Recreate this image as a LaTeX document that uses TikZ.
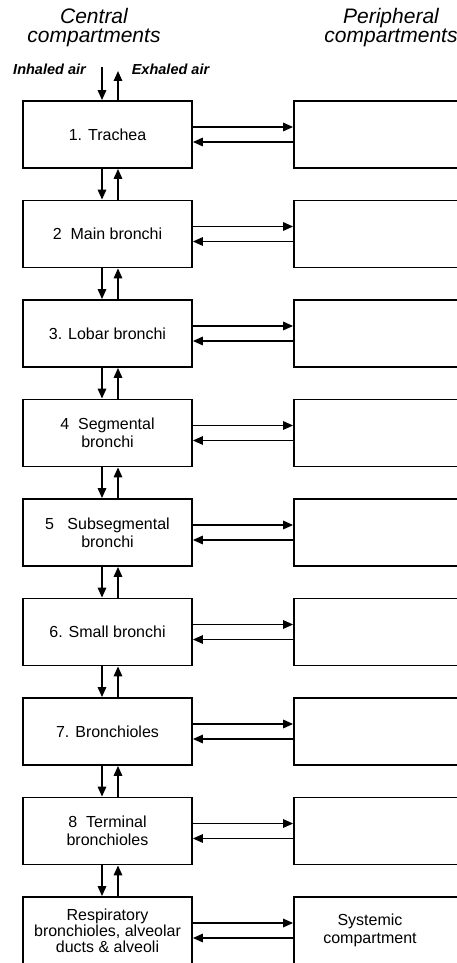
\documentclass[tikz,border=0pt]{standalone}
\usepackage{fontspec}
\setmainfont{Liberation Sans}
\usetikzlibrary{arrows.meta}

\begin{document}
\begin{tikzpicture}[x=1pt, y=-1pt, >={Triangle[length=10pt, width=8.5pt]},
  cbox/.style={rectangle, draw, line width=1.8pt, minimum width=169pt, minimum height=67pt, inner sep=1pt, align=center, font=\fontsize{16}{18}\selectfont},
  pbox/.style={rectangle, draw, line width=1.8pt, minimum width=186pt, minimum height=67pt},
  flow/.style={->, line width=1.6pt},
  head/.style={anchor=north, inner sep=0pt, align=center, font=\fontsize{21}{19}\selectfont\itshape},
  air/.style={anchor=base, inner sep=0pt, font=\fontsize{14.5}{16}\selectfont\bfseries\itshape}]
\useasboundingbox (0,0) rectangle (457,963);
\clip (0,0) rectangle (457,963);

% headings
\node[head] (central) at (94,8) {Central\\compartments};
\node[head] (periph) at (391,8) {Peripheral\\compartments};
\node[air] (inlabel) at (49.5,75) {Inhaled air};
\node[air] (exlabel) at (170.5,75) {Exhaled air};
\coordinate (inh) at (102,67);
\coordinate (exh) at (118,71);

% 1. Trachea
\node[cbox] (C1) at (107.5,134.5) {1. Trachea};
\node[pbox] (P1) at (387,134.5) {};
\draw[flow] (inh) -- (inh |- C1.north);
\draw[flow] (exh |- C1.north) -- (exh);
\draw[flow] ([yshift=7.5pt]C1.east) -- ([yshift=7.5pt]P1.west);
\draw[flow] ([yshift=-7.5pt]P1.west) -- ([yshift=-7.5pt]C1.east);

% 2. Main bronchi
\begin{scope}[yshift=-99.5pt]
\node[cbox] (C2) at (107.5,134.5) {2~~Main bronchi};
\node[pbox] (P2) at (387,134.5) {};
\draw[flow] ([xshift=-5.5pt]C1.south) -- ([xshift=-5.5pt]C2.north);
\draw[flow] ([xshift=10.5pt]C2.north) -- ([xshift=10.5pt]C1.south);
\draw[flow] ([yshift=7.5pt]C2.east) -- ([yshift=7.5pt]P2.west);
\draw[flow] ([yshift=-7.5pt]P2.west) -- ([yshift=-7.5pt]C2.east);
\end{scope}

% 3. Lobar bronchi
\begin{scope}[yshift=-199pt]
\node[cbox] (C3) at (107.5,134.5) {3. Lobar bronchi};
\node[pbox] (P3) at (387,134.5) {};
\draw[flow] ([xshift=-5.5pt]C2.south) -- ([xshift=-5.5pt]C3.north);
\draw[flow] ([xshift=10.5pt]C3.north) -- ([xshift=10.5pt]C2.south);
\draw[flow] ([yshift=7.5pt]C3.east) -- ([yshift=7.5pt]P3.west);
\draw[flow] ([yshift=-7.5pt]P3.west) -- ([yshift=-7.5pt]C3.east);
\end{scope}

% 4. Segmental bronchi
\begin{scope}[yshift=-298.5pt]
\node[cbox] (C4) at (107.5,134.5) {4~~Segmental\\bronchi};
\node[pbox] (P4) at (387,134.5) {};
\draw[flow] ([xshift=-5.5pt]C3.south) -- ([xshift=-5.5pt]C4.north);
\draw[flow] ([xshift=10.5pt]C4.north) -- ([xshift=10.5pt]C3.south);
\draw[flow] ([yshift=7.5pt]C4.east) -- ([yshift=7.5pt]P4.west);
\draw[flow] ([yshift=-7.5pt]P4.west) -- ([yshift=-7.5pt]C4.east);
\end{scope}

% 5. Subsegmental bronchi
\begin{scope}[yshift=-398pt]
\node[cbox] (C5) at (107.5,134.5) {5~~~Subsegmental\\bronchi};
\node[pbox] (P5) at (387,134.5) {};
\draw[flow] ([xshift=-5.5pt]C4.south) -- ([xshift=-5.5pt]C5.north);
\draw[flow] ([xshift=10.5pt]C5.north) -- ([xshift=10.5pt]C4.south);
\draw[flow] ([yshift=7.5pt]C5.east) -- ([yshift=7.5pt]P5.west);
\draw[flow] ([yshift=-7.5pt]P5.west) -- ([yshift=-7.5pt]C5.east);
\end{scope}

% 6. Small bronchi
\begin{scope}[yshift=-497.5pt]
\node[cbox] (C6) at (107.5,134.5) {6. Small bronchi};
\node[pbox] (P6) at (387,134.5) {};
\draw[flow] ([xshift=-5.5pt]C5.south) -- ([xshift=-5.5pt]C6.north);
\draw[flow] ([xshift=10.5pt]C6.north) -- ([xshift=10.5pt]C5.south);
\draw[flow] ([yshift=7.5pt]C6.east) -- ([yshift=7.5pt]P6.west);
\draw[flow] ([yshift=-7.5pt]P6.west) -- ([yshift=-7.5pt]C6.east);
\end{scope}

% 7. Bronchioles
\begin{scope}[yshift=-597pt]
\node[cbox] (C7) at (107.5,134.5) {7. Bronchioles};
\node[pbox] (P7) at (387,134.5) {};
\draw[flow] ([xshift=-5.5pt]C6.south) -- ([xshift=-5.5pt]C7.north);
\draw[flow] ([xshift=10.5pt]C7.north) -- ([xshift=10.5pt]C6.south);
\draw[flow] ([yshift=7.5pt]C7.east) -- ([yshift=7.5pt]P7.west);
\draw[flow] ([yshift=-7.5pt]P7.west) -- ([yshift=-7.5pt]C7.east);
\end{scope}

% 8. Terminal bronchioles
\begin{scope}[yshift=-696.5pt]
\node[cbox] (C8) at (107.5,134.5) {8~~Terminal\\bronchioles};
\node[pbox] (P8) at (387,134.5) {};
\draw[flow] ([xshift=-5.5pt]C7.south) -- ([xshift=-5.5pt]C8.north);
\draw[flow] ([xshift=10.5pt]C8.north) -- ([xshift=10.5pt]C7.south);
\draw[flow] ([yshift=7.5pt]C8.east) -- ([yshift=7.5pt]P8.west);
\draw[flow] ([yshift=-7.5pt]P8.west) -- ([yshift=-7.5pt]C8.east);
\end{scope}

% respiratory zone and systemic compartment
\begin{scope}[yshift=-796pt]
\node[cbox, font=\fontsize{16}{16}\selectfont] (C9) at (107.5,134.5) {Respiratory\\bronchioles, alveolar\\ducts \& alveoli};
\node[pbox] (P9) at (387,134.5) {};
\node[align=center, inner sep=0pt, font=\fontsize{16}{18.5}\selectfont] (sys) at (370,134.5) {Systemic\\compartment};
\draw[flow] ([xshift=-5.5pt]C8.south) -- ([xshift=-5.5pt]C9.north);
\draw[flow] ([xshift=10.5pt]C9.north) -- ([xshift=10.5pt]C8.south);
\draw[flow] ([yshift=7.5pt]C9.east) -- ([yshift=7.5pt]P9.west);
\draw[flow] ([yshift=-7.5pt]P9.west) -- ([yshift=-7.5pt]C9.east);
\end{scope}
\end{tikzpicture}
\end{document}
